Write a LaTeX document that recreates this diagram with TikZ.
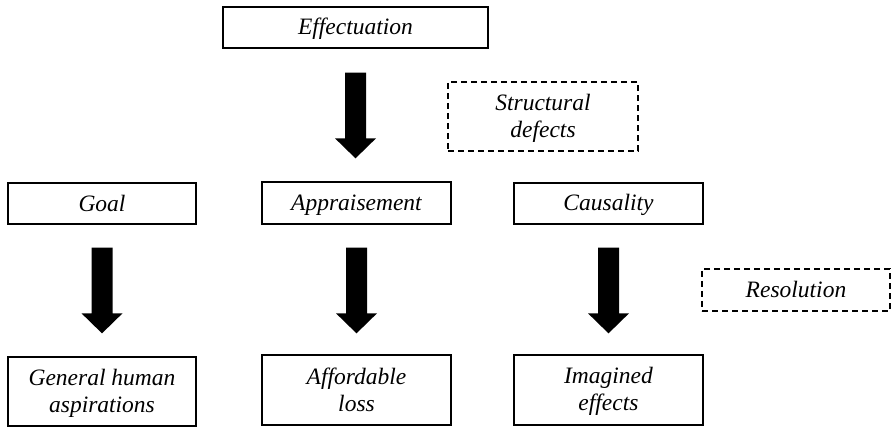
\documentclass[tikz,border=0pt]{standalone}
\usepackage{fontspec}
\setmainfont{Liberation Serif}
\usetikzlibrary{calc}
\newcommand\ls{\rule[-4pt]{0pt}{24pt}}
\tikzset{
  box/.style={draw, line width=1.3pt, inner sep=0pt, align=center,
    font=\fontsize{23.5}{27}\selectfont\itshape},
  dbox/.style={box, dash pattern=on 6pt off 4pt},
}
\newcommand\fatarrow[2]{%
  \fill let \p1=(#1), \p2=(#2) in
    (\x1-10.5pt,\y1) -- (\x1+10.5pt,\y1) -- (\x1+10.5pt,\y2+20pt) --
    (\x1+20.5pt,\y2+20pt) -- (\x1,\y2) -- (\x1-20.5pt,\y2+20pt) --
    (\x1-10.5pt,\y2+20pt) -- cycle;
}
\begin{document}
\begin{tikzpicture}[x=1pt,y=-1pt]
\useasboundingbox (0,0) rectangle (892,427);
\node[box, minimum width=265pt, minimum height=41pt] (eff) at (355.5,27.5) {\ls Effectuation};
\node[dbox, minimum width=190pt, minimum height=69pt] (sd) at (543,116.5) {\ls Structural\\\ls defects};
\node[box, minimum width=188pt, minimum height=41pt] (goal) at (102,203.5) {\ls Goal};
\node[box, minimum width=189pt, minimum height=42pt] (appr) at (356.5,203) {\ls Appraisement};
\node[box, minimum width=189pt, minimum height=41pt] (caus) at (608.5,203.5) {\ls Causality};
\node[dbox, minimum width=188pt, minimum height=42pt] (res) at (796,290) {\ls Resolution};
\node[box, minimum width=188pt, minimum height=69pt] (gen) at (102,391.5) {\ls General human\\\ls aspirations};
\node[box, minimum width=189pt, minimum height=70pt] (aff) at (356.5,390) {\ls Affordable\\\ls loss};
\node[box, minimum width=189pt, minimum height=70pt] (ima) at (608.5,390) {\ls Imagined\\\ls effects};
\coordinate (e1) at ($(eff.south)+(0,24)$);
\coordinate (e2) at ($(appr.north)+(0,-23)$);
\fatarrow{e1}{e2}
\coordinate (g1) at ($(goal.south)+(0,23)$);
\coordinate (g2) at ($(gen.north)+(0,-23)$);
\fatarrow{g1}{g2}
\coordinate (a1) at ($(appr.south)+(0,23)$);
\coordinate (a2) at ($(aff.north)+(0,-21)$);
\fatarrow{a1}{a2}
\coordinate (c1) at ($(caus.south)+(0,23)$);
\coordinate (c2) at ($(ima.north)+(0,-21)$);
\fatarrow{c1}{c2}
\end{tikzpicture}
\end{document}
